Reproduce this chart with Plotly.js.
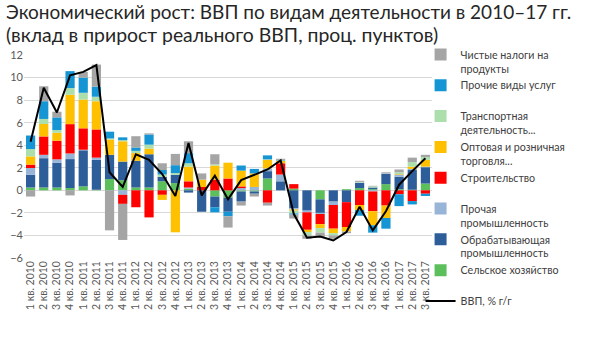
<!DOCTYPE html>
<html><head><meta charset="utf-8">
<script src="https://cdn.plot.ly/plotly-3.0.1.min.js"></script>
<style>html,body{margin:0;padding:0;background:#fff}#c{width:600px;height:338px}</style>
</head><body><div id="c"></div>
<script>
const quarters = [];
for (let y = 2010; y <= 2017; y++) for (let q = 1; q <= 4; q++) if (!(y === 2017 && q === 4)) quarters.push(q + " кв. " + y);

const agriculture   = [0.25,0.25,0.25,0.2,0.35,0.05,1.0,0.9,0.25,0.25,0.8,0.64,0.15,0,-0.55,-0.65,-0.1,-0.1,1.05,0,0.15,0,-0.8,0,0.1,0.2,0.1,0.55,0.1,0.05,0.6];
const manufacturing = [1.13,2.6,2.2,2.57,3.2,2.65,2.15,1.65,2.37,2.95,0.4,0.74,-0.2,-1.9,-0.95,-1.25,-0.9,-0.2,0.65,0.8,-1.6,-1.8,-1.2,-1.0,-1.05,0.45,0.15,0.9,1.1,1.75,1.45];
const otherIndustry = [0.6,0.3,0.3,0.5,0.05,0.2,0,-0.4,0,0,0,0,0.1,0,0,0,0.2,0.3,0.25,0.6,-0.1,-0.15,-0.1,-0.3,0,0.05,-0.1,0.05,0.2,0.1,0.05];
const construction  = [0.3,1.63,1.65,2.6,1.9,2.5,0,-0.8,-1.5,-2.4,-0.4,0,0.55,0.3,0.95,1.05,0.15,0,-1.1,1.0,0.4,-1.55,-0.9,-2.1,-2.2,-1.3,-1.75,-1.35,-0.35,-0.95,-0.3];
const trade         = [0.73,1.1,0.7,2.6,2.55,2.5,1.35,1.8,0.68,0.5,-0.45,-3.72,1.3,0.65,1.25,1.4,1.4,1.2,0.75,0.2,-0.1,-0.2,-0.35,-0.4,-0.4,-0.45,-1.25,-1.1,0.05,0.2,0.6];
const transport     = [0.65,0.45,0.25,0.6,0.6,0.4,0.1,0.1,0.2,0.35,0.2,0.15,0.3,0,0.1,0,0,0,0.05,0.05,-0.25,-0.3,-0.4,-0.2,0,0.05,0.1,0,0.15,0.4,0.25];
const services      = [1.2,1.57,1.12,1.5,1.35,0.9,0.6,0.25,0.3,0.9,0.4,0.7,0.9,0,-0.45,-0.4,0.45,0.4,0.35,0.05,-0.1,0,0,0,0,-0.5,-0.65,-0.95,-1.05,-0.3,-0.2];
const netTaxes      = [-0.55,1.33,0.5,-0.45,0.5,1.95,-3.55,-3.2,1.0,0.1,0.6,1.0,1.05,0.55,0.9,-1.0,-0.35,-0.25,-0.25,0.1,-0.35,-0.3,-0.4,-0.3,-0.15,0.1,0.05,0.1,0.25,0.4,0.2];
const gdp           = [4.3,9.1,6.9,10.2,10.5,11.1,1.6,0.3,3.2,2.7,1.45,-0.5,4.2,-0.45,1.3,-0.8,0.9,1.35,1.85,2.65,-2.1,-4.2,-4.1,-4.45,-3.7,-1.45,-3.55,-1.85,0.5,1.7,2.85];

const titleLines = ["Экономический рост: ВВП по видам деятельности в 2010–17 гг.",
                    "(вклад в прирост реального ВВП, проц. пунктов)"];

const series = [
  {name: "Сельское хозяйство<br>\u00a0", y: agriculture, color: "#5BBF5B"},
  {name: "Обрабатывающая<br>промышленность", y: manufacturing, color: "#2E5E99"},
  {name: "Прочая<br>промышленность", y: otherIndustry, color: "#98B4D6"},
  {name: "Строительство<br>\u00a0", y: construction, color: "#FF0000"},
  {name: "Оптовая и розничная<br>торговля...", y: trade, color: "#FFC000"},
  {name: "Транспортная<br>деятельность...", y: transport, color: "#ADDFAD"},
  {name: "Прочие виды услуг<br>\u00a0", y: services, color: "#1595D3"},
  {name: "Чистые налоги на<br>продукты", y: netTaxes, color: "#A5A5A5"}
];

const data = [{
  type: "scatter", mode: "lines", x: quarters, y: gdp, name: "ВВП, % г/г<br>\u00a0",
  line: {color: "#000000", width: 2}, hoverinfo: "skip"
}];
series.forEach(s => data.push({type: "bar", x: quarters, y: s.y, name: s.name, marker: {color: s.color}}));

const font = "Lato, 'Open Sans', sans-serif";
const titleFont = {family: font, size: 19, color: "#262626"};
const layout = {
  width: 600, height: 338,
  margin: {l: 24, r: 168, t: 55, b: 80},
  paper_bgcolor: "#fff", plot_bgcolor: "#fff",
  barmode: "relative", bargap: 0.3,
  showlegend: true,
  annotations: [
    {text: titleLines[0], xref: "paper", yref: "paper", x: -0.05, y: 1.212, xanchor: "left", yanchor: "middle", showarrow: false, font: titleFont},
    {text: titleLines[1], xref: "paper", yref: "paper", x: -0.05, y: 1.099, xanchor: "left", yanchor: "middle", showarrow: false, font: {family: font, size: 19.4, color: "#262626"}}
  ],
  xaxis: {type: "category", tickangle: -90, tickfont: {family: font, size: 10.5, color: "#595959"},
          showgrid: false, zeroline: false, showline: false, ticks: ""},
  yaxis: {range: [-6, 12], dtick: 2, tickfont: {family: font, size: 11, color: "#595959"},
          gridcolor: "#D9D9D9", zeroline: false, showline: false, ticks: ""},
  legend: {x: 0.972, xanchor: "left", y: 1.069, yanchor: "top", traceorder: "reversed",
           valign: "top", tracegroupgap: 0, itemwidth: 30, maxheight: 330,
           font: {family: font, size: 10.7, color: "#404040"}, bgcolor: "rgba(0,0,0,0)"}
};
Plotly.newPlot("c", data, layout, {staticPlot: true});
</script></body></html>
